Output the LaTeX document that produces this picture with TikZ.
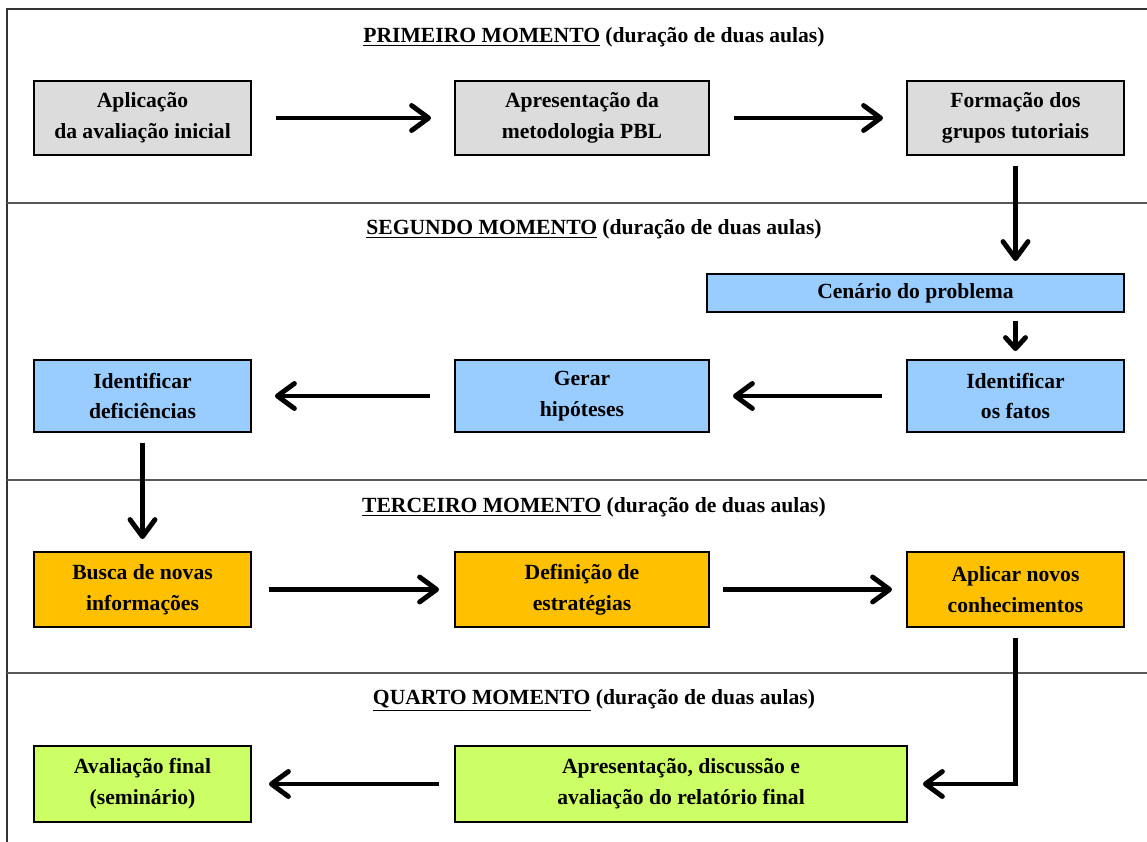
\documentclass[tikz,border=0pt]{standalone}
\usepackage{fontspec}
\setmainfont{Liberation Serif}
\usetikzlibrary{arrows.meta}
\definecolor{boxgray}{RGB}{220,220,220}
\definecolor{boxblue}{RGB}{153,204,255}
\definecolor{boxorange}{RGB}{255,192,0}
\definecolor{boxgreen}{RGB}{204,255,102}

\begin{document}
\begin{tikzpicture}[x=0.02cm,y=-0.02cm]
	\useasboundingbox (0,0) rectangle (1147,842);
	% moldura e divisorias
	\draw[line width=1.1pt,black!80] (1147,9) -- (7,9) -- (7,842);
	\foreach \y in {203,480,673}
		\draw[line width=0.7pt,black!65] (7,\y) -- (1147,\y);

	\begin{scope}[every node/.style={font=\bfseries\fontsize{12.3}{17.5}\selectfont}]
		\node (m1) at (594,37) {\underline{PRIMEIRO MOMENTO} (duração de duas aulas)};
		\node (m2) at (594,229) {\underline{SEGUNDO MOMENTO} (duração de duas aulas)};
		\node (m3) at (594,507) {\underline{TERCEIRO MOMENTO} (duração de duas aulas)};
		\node (m4) at (594,700) {\underline{QUARTO MOMENTO} (duração de duas aulas)};
	\end{scope}

	\begin{scope}[every node/.style={draw,line width=1.1pt,align=center,inner sep=0pt,
	              minimum width=4.34cm,font=\bfseries\fontsize{12.3}{17.5}\selectfont}]
		\node[fill=boxgray,minimum height=1.48cm] (aplic) at (142.5,118) {Aplicação\\da avaliação inicial};
		\node[fill=boxgray,minimum height=1.48cm,minimum width=5.08cm] (apres) at (582,118) {Apresentação da\\metodologia PBL};
		\node[fill=boxgray,minimum height=1.48cm] (form) at (1015.5,118) {Formação dos\\grupos tutoriais};

		\node[fill=boxblue,minimum height=0.76cm,minimum width=8.34cm] (cen) at (915.5,293) {Cenário do problema};
		\node[fill=boxblue,minimum height=1.44cm] (defic) at (142.5,396) {Identificar\\deficiências};
		\node[fill=boxblue,minimum height=1.44cm,minimum width=5.08cm] (hip) at (582,396) {Gerar\\hipóteses};
		\node[fill=boxblue,minimum height=1.44cm] (fatos) at (1015.5,396) {Identificar\\os fatos};

		\node[fill=boxorange,minimum height=1.5cm] (busca) at (142.5,589.5) {Busca de novas\\informações};
		\node[fill=boxorange,minimum height=1.5cm,minimum width=5.08cm] (estrat) at (582,589.5) {Definição de\\estratégias};
		\node[fill=boxorange,minimum height=1.5cm] (aplicar) at (1015.5,589.5) {Aplicar novos\\conhecimentos};

		\node[fill=boxgreen,minimum height=1.52cm] (avfinal) at (142.5,784) {Avaliação final\\(seminário)};
		\node[fill=boxgreen,minimum height=1.52cm,minimum width=9.04cm] (relat) at (681,784) {Apresentação, discussão e\\avaliação do relatório final};
	\end{scope}

	\begin{scope}[>={Straight Barb[length=3.4mm,width=5mm,round]},
	              every edge/.style={draw=black,line width=2.8pt,shorten <=4.8mm,shorten >=4.6mm},
	              every path/.style={->}]
		\path (aplic) edge (apres);
		\path (apres) edge (form);
		\path (form.south) edge[shorten <=2mm,shorten >=2.4mm] (form.south |- cen.north);
		\path (cen.south -| fatos.north) edge[shorten <=1.6mm,shorten >=1.6mm,
		      -{Straight Barb[length=2.2mm,width=4mm,round]}] (fatos.north);
		\path (fatos) edge (hip);
		\path (hip) edge (defic);
		\path (defic) edge[shorten <=2mm,shorten >=2.4mm] (busca);
		\path (busca) edge[shorten <=3.4mm,shorten >=3mm] (estrat);
		\path (estrat) edge[shorten <=2.6mm,shorten >=2.8mm] (aplicar);
		\path (relat) edge[shorten <=3mm,shorten >=3.4mm] (avfinal);
		\draw[line width=2.8pt,shorten <=2mm,shorten >=3mm] (aplicar) |- (relat);
	\end{scope}
\end{tikzpicture}
\end{document}
